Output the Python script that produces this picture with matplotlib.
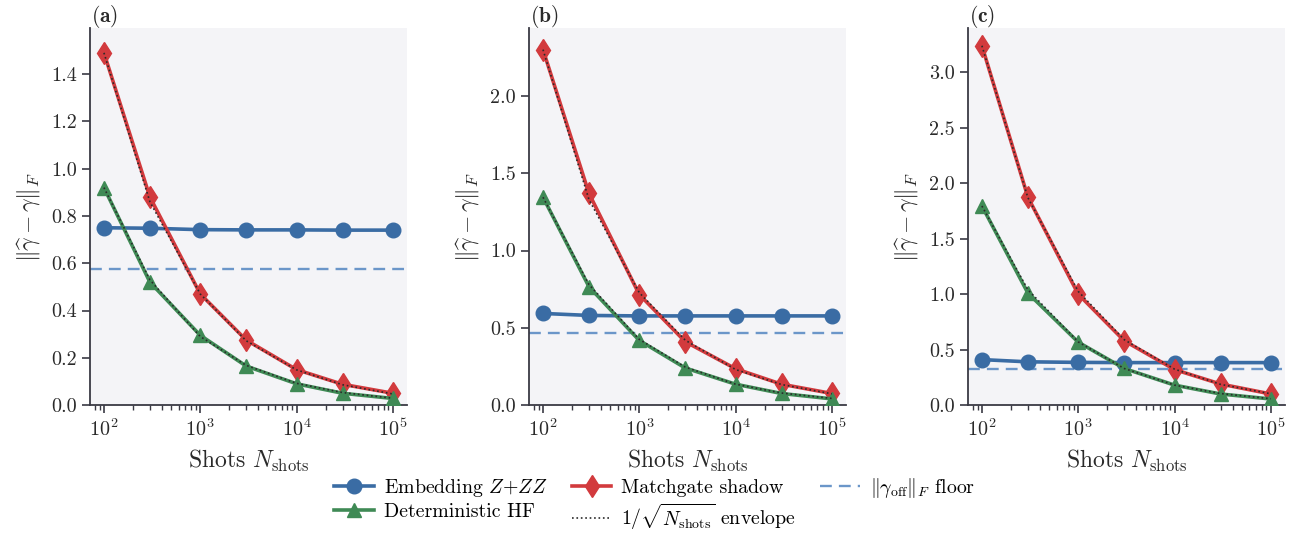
import numpy as np
import matplotlib
matplotlib.use("Agg")
import matplotlib.pyplot as plt
from matplotlib.lines import Line2D

plt.rcParams['font.family'] = ['cmr10', 'DejaVu Serif']
plt.rcParams['mathtext.fontset'] = 'cm'
plt.rcParams['axes.unicode_minus'] = False
plt.rcParams['axes.formatter.use_mathtext'] = True

shots = [1e2, 3e2, 1e3, 3e3, 1e4, 3e4, 1e5]
panels = ['(a)', '(b)', '(c)']

emb_a = [0.750, 0.748, 0.742, 0.741, 0.741, 0.740, 0.740]
mg_a = [1.49, 0.88, 0.47, 0.275, 0.15, 0.088, 0.050]
hf_a = [0.92, 0.52, 0.295, 0.165, 0.090, 0.050, 0.028]
env_mg_a = [1.49, 0.86, 0.47, 0.272, 0.149, 0.086, 0.047]
env_hf_a = [0.92, 0.53, 0.29, 0.168, 0.092, 0.053, 0.029]
floor_a = 0.576

emb_b = [0.593, 0.580, 0.577, 0.577, 0.577, 0.577, 0.577]
mg_b = [2.30, 1.37, 0.715, 0.41, 0.235, 0.135, 0.075]
hf_b = [1.345, 0.766, 0.418, 0.240, 0.135, 0.075, 0.040]
env_mg_b = [2.30, 1.33, 0.727, 0.42, 0.23, 0.133, 0.073]
env_hf_b = [1.345, 0.78, 0.425, 0.246, 0.135, 0.078, 0.043]
floor_b = 0.464

emb_c = [0.41, 0.39, 0.385, 0.383, 0.383, 0.383, 0.383]
mg_c = [3.24, 1.875, 1.00, 0.58, 0.32, 0.19, 0.10]
hf_c = [1.795, 1.01, 0.567, 0.33, 0.18, 0.10, 0.055]
env_mg_c = [3.24, 1.87, 1.025, 0.59, 0.324, 0.187, 0.102]
env_hf_c = [1.795, 1.04, 0.57, 0.33, 0.18, 0.104, 0.057]
floor_c = 0.322

ylims = [1.595, 2.44, 3.40]
yticks = [[0, 0.2, 0.4, 0.6, 0.8, 1.0, 1.2, 1.4],
          [0, 0.5, 1.0, 1.5, 2.0],
          [0, 0.5, 1.0, 1.5, 2.0, 2.5, 3.0]]

data = [(emb_a, mg_a, hf_a, env_mg_a, env_hf_a, floor_a),
        (emb_b, mg_b, hf_b, env_mg_b, env_hf_b, floor_b),
        (emb_c, mg_c, hf_c, env_mg_c, env_hf_c, floor_c)]

c_blue = '#3a6ca4'
c_red = '#d23a3d'
c_green = '#3f8a55'
c_floor = '#6b96c9'
c_env = '#2a2a2a'
bg = '#f4f4f7'
spine = '#3a3a44'
txt = '#2a2a2a'

fig = plt.figure(figsize=(13.04, 5.33), dpi=100)
lefts = [0.069, 0.4057, 0.7423]
width = 0.243
bottom = 0.240
height = 0.7075

for i, (emb, mg, hf, emg, ehf, fl) in enumerate(data):
    ax = fig.add_axes([lefts[i], bottom, width, height])
    ax.set_facecolor(bg)
    ax.set_xscale('log')
    ax.axhline(fl, color=c_floor, ls='--', lw=1.7, dashes=(5, 3), zorder=1)
    ax.plot(shots, emb, color=c_blue, lw=2.6, marker='o', ms=10.5, zorder=3)
    ax.plot(shots, mg, color=c_red, lw=2.6, marker='d', ms=11.5, zorder=3)
    ax.plot(shots, hf, color=c_green, lw=2.6, marker='^', ms=10.5, zorder=3)
    ax.plot(shots, emg, color=c_env, lw=1.2, ls=':', zorder=4)
    ax.plot(shots, ehf, color=c_env, lw=1.2, ls=':', zorder=4)
    ax.set_ylim(0, ylims[i])
    ax.set_xlim(10**1.855, 10**5.145)
    ax.set_yticks(yticks[i])
    ax.set_yticklabels(['%.1f' % v for v in yticks[i]])
    for s in ['top', 'right']:
        ax.spines[s].set_visible(False)
    for s in ['left', 'bottom']:
        ax.spines[s].set_color(spine)
        ax.spines[s].set_linewidth(1.3)
    ax.tick_params(axis='both', which='major', direction='out', length=6, width=1.2,
                   color=spine, labelsize=14.5, labelcolor=txt)
    ax.tick_params(axis='both', which='minor', direction='out', length=3.5, width=1.0,
                   color=spine)
    ax.set_xlabel(r'Shots $N_{\rm shots}$', fontsize=17, color=txt, labelpad=6)
    ax.set_ylabel(r'$\|\widehat{\gamma}-\gamma\|_F$', fontsize=17, color=txt, labelpad=6)
    fig.text(lefts[i] + 0.0005, 0.995, r'$\mathbf{%s}$' % panels[i],
             fontsize=15.5, va='top', ha='left', color=txt)

handles = [
    Line2D([], [], color=c_blue, lw=2.6, marker='o', ms=10.5),
    Line2D([], [], color=c_green, lw=2.6, marker='^', ms=10.5),
    Line2D([], [], color=c_red, lw=2.6, marker='d', ms=11.5),
    Line2D([], [], color=c_env, lw=1.2, ls=':'),
    Line2D([], [], color=c_floor, lw=1.7, ls='--', dashes=(5, 3)),
]
labels = [r'Embedding $Z{+}ZZ$', 'Deterministic HF', 'Matchgate shadow',
          r'$1/\sqrt{N_{\rm shots}}$ envelope', r'$\|\gamma_{\rm off}\|_F$ floor']
fig.legend(handles, labels, loc='center', bbox_to_anchor=(0.502, 0.055), ncol=3,
           frameon=False, fontsize=14.3, handlelength=2.0, columnspacing=1.2,
           labelspacing=0.2, handletextpad=0.5)

fig.savefig('out.png', dpi=100)
